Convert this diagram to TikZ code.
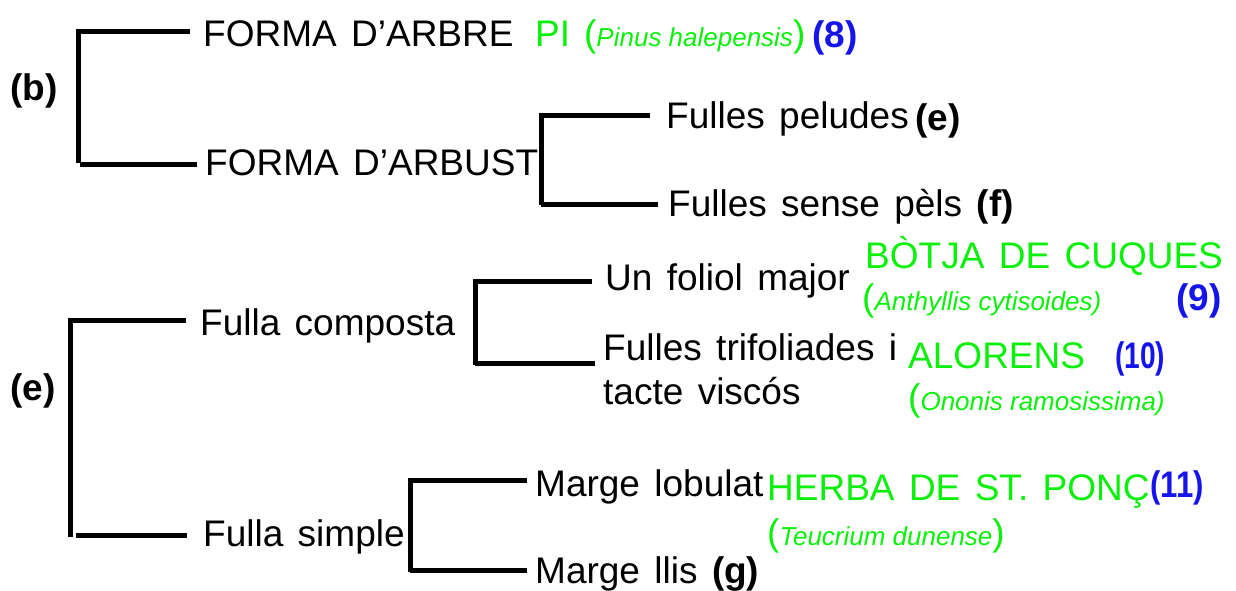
\documentclass[tikz,border=0pt]{standalone}
\usepackage{fontspec}
\setmainfont{Liberation Sans}[WordSpace=1.4]
\newfontfamily\scifam{Liberation Sans}
\newcommand{\latin}[1]{{\fontsize{26}{30}\scifam\itshape #1}}
\definecolor{lime}{RGB}{10,240,10}
\definecolor{numblue}{RGB}{20,20,235}
\begin{document}
\begin{tikzpicture}[x=1pt,y=-1pt,
  txt/.style={anchor=base west,inner sep=0pt,font=\fontsize{37}{44}\selectfont},
  sci/.style={anchor=base west,inner sep=0pt,text=lime,font=\fontsize{37}{44}\selectfont},
  num/.style={anchor=base west,inner sep=0pt,text=numblue,font=\fontsize{37}{44}\selectfont\bfseries},
  lab/.style={anchor=base west,inner sep=0pt,font=\fontsize{37}{44}\selectfont\bfseries},
  br/.style={line width=5pt}]
\useasboundingbox (0,0) rectangle (1236,590);
% labels
\node[lab] (lb) at (10,100) {(b)};
\node[lab] (le) at (10,400) {(e)};
% top group
\node[txt] (arbre) at (203,46) {FORMA D’ARBRE};
\node[sci] (pi) at (535,46) {PI\hspace{14pt}(\latin{Pinus halepensis})};
\node[num] (n8) at (812,47) {(8)};
\node[txt] (arbust) at (205,175) {FORMA D’ARBUST};
\node[txt] (pel) at (666,128) {Fulles peludes};
\node[lab] (le2) at (915,130) {(e)};
\node[txt] (sense) at (668,216) {Fulles sense pèls \textbf{(f)}};
% composta group
\node[txt] (comp) at (200,335) {Fulla composta};
\node[txt] (fol) at (605,290) {Un foliol major};
\node[sci] (botja) at (865,268) {BÒTJA DE CUQUES};
\node[sci] (anth) at (862,310) {(\latin{Anthyllis cytisoides)}};
\node[num] (n9) at (1176,310) {(9)};
\node[txt] (tri) at (603,360) {Fulles trifoliades i};
\node[txt] (tacte) at (603,404) {tacte viscós};
\node[sci] (alor) at (908,368) {ALORENS};
\node[num] (n10) at (1115,368) {\scalebox{0.76}[1]{(10)}};
\node[sci] (onon) at (908,410) {(\latin{Ononis ramosissima)}};
% simple group
\node[txt] (simp) at (203,546) {Fulla simple};
\node[txt] (lob) at (535,496) {Marge lobulat};
\node[sci] (herba) at (767,500) {HERBA DE ST. PONÇ};
\node[num] (n11) at (1150,497) {\scalebox{0.84}[1]{(11)}};
\node[sci] (teuc) at (767,545) {(\latin{Teucrium dunense})};
\node[txt] (llis) at (535,583) {Marge llis \textbf{(g)}};
% brackets
\draw[br] (78,29) -- (78,163);
\draw[br] (78,31) -- (190,31);
\draw[br] (80,164) -- (197,164);
\draw[br] (541,113) -- (541,205);
\draw[br] (543,115) -- (650,115);
\draw[br] (541,204) -- (658,204);
\draw[br] (70,318) -- (70,537);
\draw[br] (73,320) -- (186,320);
\draw[br] (76,535) -- (187,535);
\draw[br] (475,279) -- (475,365);
\draw[br] (477,281) -- (592,281);
\draw[br] (475,363) -- (595,363);
\draw[br] (410,478) -- (410,572);
\draw[br] (413,480) -- (527,480);
\draw[br] (410,570) -- (527,570);
\end{tikzpicture}
\end{document}
